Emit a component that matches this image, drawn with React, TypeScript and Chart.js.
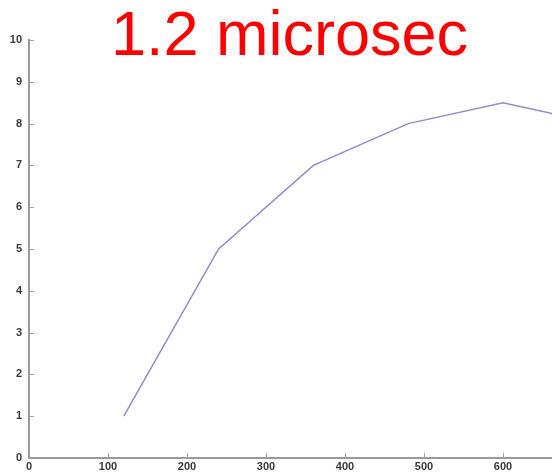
import React, { useEffect, useRef } from "react";
import { Chart, registerables } from "chart.js";

Chart.register(...registerables);

const xValues = [120, 240, 360, 480, 600, 720];
const yValues = [1, 5, 7, 8, 8.5, 8.0];
const titleText = "1.2 microsec";
const xTicks = [0, 100, 200, 300, 400, 500, 600];
const yTicks = [0, 1, 2, 3, 4, 5, 6, 7, 8, 9, 10];

const inwardTicks = {
  id: "inwardTicks",
  afterDraw(chart: any) {
    const ctx = chart.ctx;
    const area = chart.chartArea;
    const xs = chart.scales.x;
    const ys = chart.scales.y;
    ctx.save();
    ctx.strokeStyle = "#a0a0a0";
    ctx.lineWidth = 1;
    ctx.beginPath();
    xTicks.forEach((v) => {
      const px = Math.round(xs.getPixelForValue(v)) + 0.5;
      ctx.moveTo(px, area.bottom);
      ctx.lineTo(px, area.bottom - 5);
    });
    yTicks.forEach((v) => {
      const py = Math.round(ys.getPixelForValue(v)) + 0.5;
      ctx.moveTo(area.left, py);
      ctx.lineTo(area.left + 5, py);
    });
    ctx.stroke();
    ctx.restore();
  },
};

export default function App() {
  const ref = useRef<HTMLCanvasElement | null>(null);

  useEffect(() => {
    document.body.style.margin = "0";
    const chart = new Chart(ref.current as HTMLCanvasElement, {
      type: "line",
      data: {
        datasets: [
          {
            data: xValues.map((x, i) => ({ x, y: yValues[i] })),
            borderColor: "#8e8ec8",
            borderWidth: 1.5,
            pointRadius: 0,
            fill: false,
            tension: 0,
          },
        ],
      },
      options: {
        animation: false,
        responsive: false,
        maintainAspectRatio: false,
        layout: { padding: { top: 40, right: 0, left: 0, bottom: 0 } },
        plugins: { legend: { display: false }, title: { display: false }, tooltip: { enabled: false } },
        scales: {
          x: {
            type: "linear",
            min: 0,
            max: 662,
            afterBuildTicks: (s: any) => {
              s.ticks = xTicks.map((v) => ({ value: v }));
            },
            afterFit: (s: any) => {
              s.height = 17;
            },
            grid: { display: false, drawTicks: false },
            border: { display: true, color: "#9a9a9a", width: 2 },
            ticks: {
              padding: 2,
              maxRotation: 0,
              autoSkip: false,
              color: "#3a3a3a",
              font: { family: "Liberation Sans", size: 11, weight: "bold" },
            },
          },
          y: {
            type: "linear",
            min: 0,
            max: 10,
            afterBuildTicks: (s: any) => {
              s.ticks = yTicks.map((v) => ({ value: v }));
            },
            afterFit: (s: any) => {
              s.width = 29;
            },
            grid: { display: false, drawTicks: false },
            border: { display: true, color: "#9a9a9a", width: 2 },
            ticks: {
              padding: 7,
              autoSkip: false,
              color: "#3a3a3a",
              font: { family: "Liberation Sans", size: 11, weight: "bold" },
            },
          },
        },
      },
      plugins: [inwardTicks],
    } as any);
    return () => chart.destroy();
  }, []);

  return (
    <div style={{ position: "relative", width: 552, height: 475, background: "#fff", overflow: "hidden" }}>
      <canvas ref={ref} width={552} height={475} style={{ position: "absolute", left: 0, top: 0 }} />
      <div
        style={{
          position: "absolute",
          left: 0,
          top: 2,
          width: 579,
          textAlign: "center",
          fontFamily: "Liberation Sans, Arial, sans-serif",
          fontSize: 63,
          lineHeight: "63px",
          color: "#ff0000",
          whiteSpace: "nowrap",
        }}
      >
        {titleText}
      </div>
    </div>
  );
}
